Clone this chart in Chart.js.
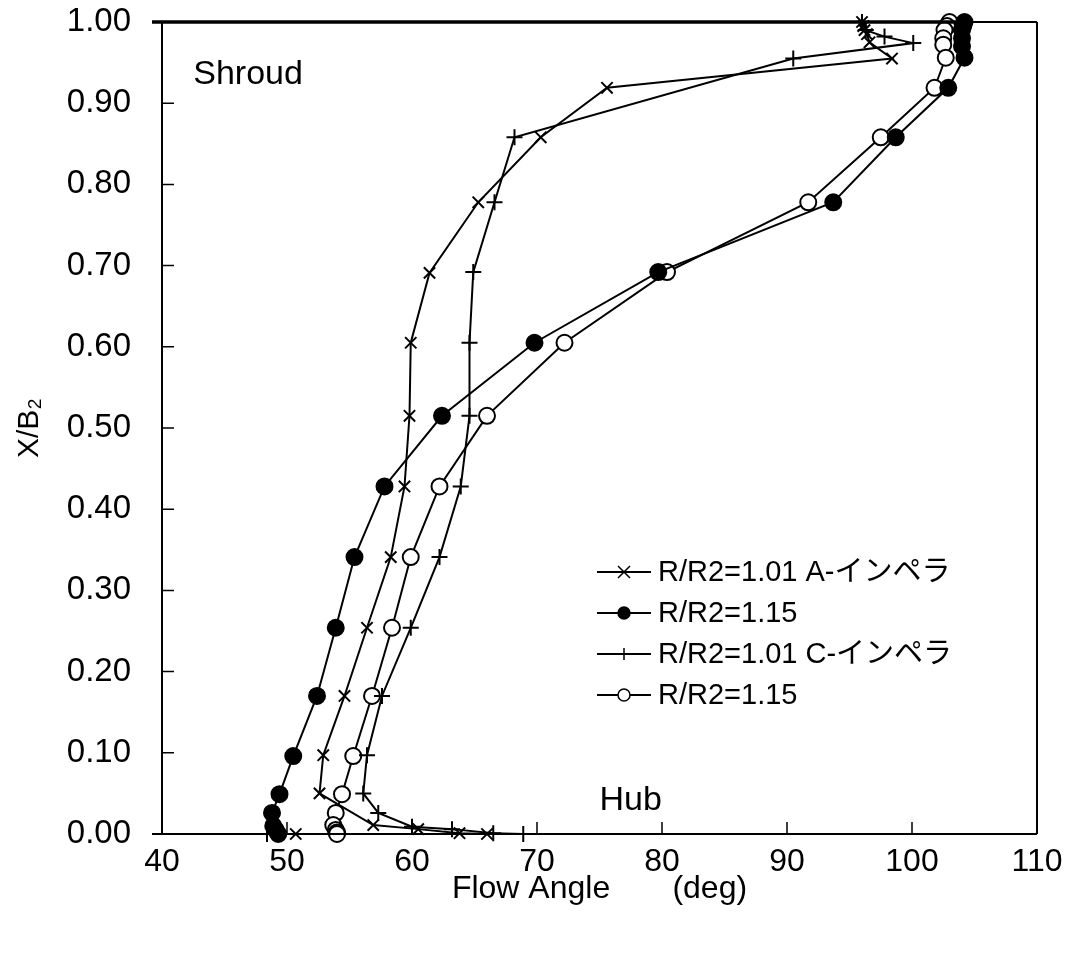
<!DOCTYPE html>
<html><head><meta charset="utf-8">
<script src="https://cdn.jsdelivr.net/npm/chart.js@4"></script>
<style>html,body{margin:0;padding:0;background:#fff}#wrap{width:1074px;height:974px}</style>
</head><body><div id="wrap"><canvas id="c" width="1074" height="974"></canvas></div>
<script>
// Series A (x markers) R/R2=1.01 A-impeller
const aAngle = [96.0,96.1,96.2,96.4,96.6,98.4,75.6,70.3,65.3,61.4,59.9,59.8,59.4,58.3,56.4,54.6,52.9,52.6,56.9,60.5,63.8,66.0,50.7];
const aPos   = [1.0,0.995,0.99,0.985,0.975,0.955,0.919,0.858,0.778,0.691,0.605,0.515,0.428,0.341,0.254,0.17,0.097,0.05,0.011,0.006,0.001,0.0,0.0];
// Series B (filled circles) R/R2=1.15 A
const bAngle = [104.2,104.1,104.0,104.0,104.0,104.2,102.9,98.7,93.7,79.7,69.8,62.4,57.8,55.4,53.9,52.4,50.5,49.4,48.8,48.9,49.1,49.3];
const bPos   = [1.0,0.995,0.99,0.98,0.97,0.956,0.919,0.858,0.778,0.692,0.605,0.515,0.428,0.341,0.254,0.17,0.096,0.049,0.026,0.01,0.005,0.0];
// Series C (plus markers) R/R2=1.01 C-impeller
const cAngle = [96.0,96.3,97.8,100.1,90.5,68.2,66.6,64.9,64.6,64.6,63.9,62.2,59.9,57.6,56.4,56.1,57.3,60.0,63.2,66.5,68.9,48.4];
const cPos   = [1.0,0.99,0.982,0.974,0.955,0.858,0.778,0.692,0.605,0.515,0.428,0.341,0.254,0.17,0.097,0.05,0.026,0.009,0.006,0.001,0.0,0.0];
// Series D (open circles) R/R2=1.15 C
const dAngle = [103.0,102.8,102.6,102.5,102.5,102.7,101.8,97.5,91.7,80.4,72.2,66.0,62.2,59.9,58.4,56.8,55.3,54.4,53.9,53.7,53.9,54.0,54.0];
const dPos   = [1.0,0.995,0.99,0.98,0.972,0.956,0.919,0.858,0.778,0.692,0.605,0.515,0.428,0.341,0.254,0.17,0.096,0.049,0.026,0.011,0.005,0.002,0.0];

const seriesLabels = ["R/R2=1.01 A-インペラ","R/R2=1.15","R/R2=1.01 C-インペラ","R/R2=1.15"];
const xTicks = [40,50,60,70,80,90,100,110];
const yTicks = [0,0.1,0.2,0.3,0.4,0.5,0.6,0.7,0.8,0.9,1.0];
const notes = [{text:"Shroud", x:42.5, y:0.935},{text:"Hub", x:75.0, y:0.041}];

const FONT = "'Liberation Sans', Arial, 'Noto Sans CJK JP', sans-serif";
const pts = (xs, ys) => xs.map((v,i)=>({x:v, y:ys[i]}));

const styles = [
  {pointStyle:'crossRot', radius:8, bg:'#000'},
  {pointStyle:'circle', radius:8, bg:'#000'},
  {pointStyle:'cross', radius:8, bg:'#000'},
  {pointStyle:'circle', radius:8, bg:'#fff'}
];
const data = [pts(aAngle,aPos), pts(bAngle,bPos), pts(cAngle,cPos), pts(dAngle,dPos)];

const datasets = data.map((d,i)=>({
  label: seriesLabels[i], data: d, showLine:true,
  borderColor:'#000', borderWidth:2,
  pointStyle: styles[i].pointStyle, pointRadius: styles[i].radius, pointHoverRadius: styles[i].radius,
  pointBackgroundColor: styles[i].bg, pointBorderColor:'#000', pointBorderWidth:2,
  tension:0, clip:false
}));

const framePlugin = {
  id:'frame',
  afterDatasetsDraw(chart){
    const {ctx, chartArea:a, scales:{x,y}} = chart;
    ctx.save();
    ctx.strokeStyle = '#000';
    ctx.lineWidth = 2;
    ctx.beginPath();
    ctx.moveTo(a.left, a.top); ctx.lineTo(a.left, a.bottom);
    ctx.moveTo(a.right, a.top); ctx.lineTo(a.right, a.bottom);
    ctx.moveTo(a.left-10, a.bottom); ctx.lineTo(a.right, a.bottom);
    ctx.moveTo(a.left, a.top); ctx.lineTo(a.right, a.top);
    ctx.stroke();
    ctx.lineWidth = 3.5;
    ctx.beginPath();
    ctx.moveTo(a.left-10, a.top); ctx.lineTo(x.getPixelForValue(104.4), a.top);
    ctx.stroke();
    ctx.lineWidth = 1.5;
    ctx.beginPath();
    xTicks.forEach(v=>{const px=x.getPixelForValue(v); ctx.moveTo(px,a.bottom); ctx.lineTo(px,a.bottom-12);});
    yTicks.forEach(v=>{const py=y.getPixelForValue(v); ctx.moveTo(a.left,py); ctx.lineTo(a.left+12,py);});
    ctx.stroke();
    ctx.fillStyle = '#000';
    ctx.font = "34px " + FONT;
    ctx.textBaseline = 'middle';
    ctx.textAlign = 'left';
    notes.forEach(n=>ctx.fillText(n.text, x.getPixelForValue(n.x), y.getPixelForValue(n.y)));
    // legend
    ctx.font = "29px " + FONT;
    const lx = 597, ly0 = 572, dy = 41;
    datasets.forEach((ds,i)=>{
      const yy = ly0 + i*dy;
      ctx.lineWidth = 2;
      ctx.beginPath(); ctx.moveTo(lx, yy); ctx.lineTo(lx+54, yy); ctx.stroke();
      const mx = lx+27;
      ctx.fillStyle = styles[i].bg;
      ctx.lineWidth = 1.5;
      const r = 6;
      if (styles[i].pointStyle==='circle'){
        ctx.beginPath(); ctx.arc(mx, yy, r, 0, Math.PI*2); ctx.fill(); ctx.stroke();
      } else if (styles[i].pointStyle==='crossRot'){
        ctx.beginPath(); ctx.moveTo(mx-r,yy-r); ctx.lineTo(mx+r,yy+r); ctx.moveTo(mx-r,yy+r); ctx.lineTo(mx+r,yy-r); ctx.stroke();
      } else {
        ctx.beginPath(); ctx.moveTo(mx,yy-r); ctx.lineTo(mx,yy+r); ctx.stroke();
      }
      ctx.fillStyle = '#000';
      ctx.fillText(ds.label, lx+61, yy+1);
    });
    ctx.restore();
  }
};

new Chart(document.getElementById('c'), {
  type:'scatter',
  data:{datasets},
  options:{
    responsive:false, animation:false,
    layout:{padding:{top:22, right:37, left:0, bottom:0}},
    plugins:{legend:{display:false}, tooltip:{enabled:false}},
    scales:{
      x:{type:'linear', min:40, max:110,
        afterBuildTicks: s => { s.ticks = xTicks.map(v=>({value:v})); },
        afterFit: s => { s.height = 140; s.paddingLeft = 0; s.paddingRight = 0; },
        grid:{display:false, drawTicks:false}, border:{display:false},
        ticks:{color:'#000', font:{size:32, family:FONT}, padding:9, maxRotation:0},
        title:{display:true, text:'Flow Angle       (deg)', color:'#000', font:{size:32, family:FONT}, padding:{top:4, bottom:66}}
      },
      y:{type:'linear', min:0, max:1,
        afterBuildTicks: s => { s.ticks = yTicks.map(v=>({value:v})); },
        afterFit: s => { s.width = 162; s.paddingTop = 0; s.paddingBottom = 0; },
        grid:{display:false, drawTicks:false}, border:{display:false},
        ticks:{color:'#000', font:{size:33, family:FONT}, padding:31, callback:v=>Number(v).toFixed(2)},
        title:{display:true, text:'X/B₂', color:'#000', font:{size:30, family:FONT}, padding:{top:12, bottom:0}}
      }
    }
  },
  plugins:[framePlugin]
});
</script></body></html>
